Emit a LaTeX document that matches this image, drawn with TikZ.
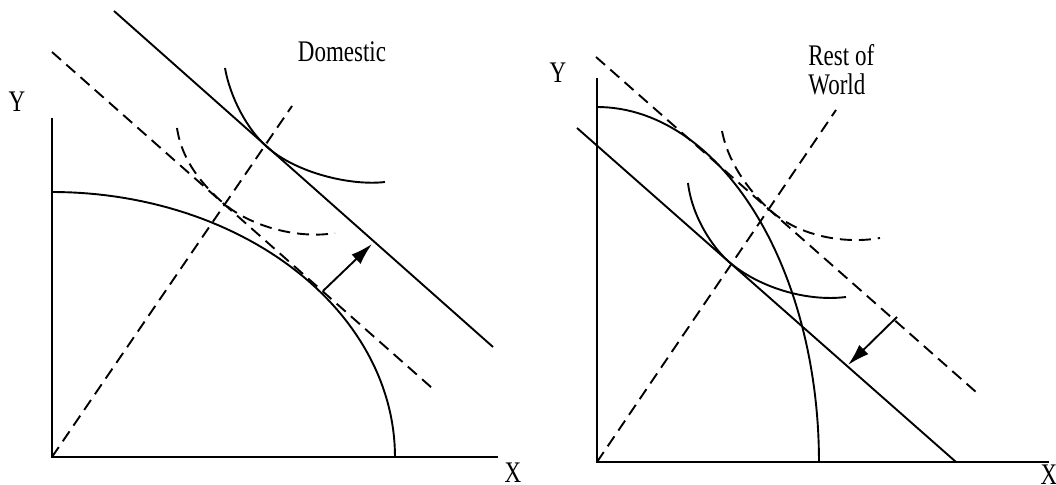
\documentclass[tikz,border=0pt]{standalone}
\usepackage{fontspec}
\setmainfont{Liberation Serif}
\usetikzlibrary{arrows.meta}

% labels in the figure are set slightly taller than wide
\newcommand\tall[1]{\scalebox{1}[1.3]{#1}}

\begin{document}
\begin{tikzpicture}[
    x=0.5pt, y=0.5pt,
    every node/.style={font=\fontsize{11.5}{11.5}\selectfont, inner sep=0pt},
    axis/.style={line width=1pt},
    curve/.style={line width=0.95pt},
    guide/.style={line width=0.95pt, dash pattern=on 6pt off 3.5pt},
    move/.style={line width=0.95pt, -{Latex[length=11pt, width=6.5pt]}},
]
\useasboundingbox (0,0) rectangle (1056,485);

% Domestic
\begin{scope}[shift={(52,28)}]
    \coordinate (o1) at (0,0);
    \draw[axis] (0,339) -- (o1) -- (446,0);
    \node (y1) at (-35,355) {\tall{Y}};
    \node (x1) at (461,-16) {\tall{X}};
    \node (dom) at (290,405) {\tall{Domestic}};

    % production frontier
    \draw[curve] plot[domain=0:90, samples=60] ({343*cos(\x)}, {265*sin(\x)});

    % price lines and expansion ray
    \draw[curve] (62,446) -- (441,110);
    \draw[guide] (0,405) -- (380,69);
    \draw[guide] (o1) -- (240,351);

    % indifference curves
    \draw[curve] (173,389) .. controls (178,360) and (195,327.7) .. (215,310)
        .. controls (245,283.4) and (300,271) .. (333,275);
    \draw[guide] (125,329) .. controls (130,295) and (152,271) .. (170,255)
        .. controls (200,228.5) and (250,218) .. (283,224);

    % shift
    \coordinate (a1) at (271,166);
    \coordinate (b1) at (320,213);
    \draw[move] (a1) -- (b1);
\end{scope}

% Rest of World
\begin{scope}[shift={(597,23)}]
    \coordinate (o2) at (0,0);
    \draw[axis] (0,384) -- (o2) -- (452,0);
    \node (y2) at (-39,389) {\tall{Y}};
    \node (x2) at (452,-13) {\tall{X}};
    \node[anchor=west] (row) at (211,388)
        {\tall{\begin{tabular}{@{}l@{}}Rest of\\World\end{tabular}}};

    % production frontier
    \draw[curve] plot[domain=0:90, samples=60] ({222*cos(\x)}, {355*sin(\x)});

    % price lines and expansion ray
    \draw[curve] (-20,334) -- (359,0);
    \draw[guide] (-1,405) -- (379,70);
    \draw[guide] (o2) -- (239,352);

    % indifference curves
    \draw[curve] (91,279) .. controls (95,245) and (116,214.3) .. (131,201)
        .. controls (161,174.5) and (210,160) .. (249,165);
    \draw[guide] (125,331) .. controls (132,295) and (157,266) .. (174,251)
        .. controls (204,224.5) and (250,218) .. (283,224);

    % shift
    \coordinate (a2) at (300,145);
    \coordinate (b2) at (251,97);
    \draw[move] (a2) -- (b2);
\end{scope}

\end{tikzpicture}
\end{document}
